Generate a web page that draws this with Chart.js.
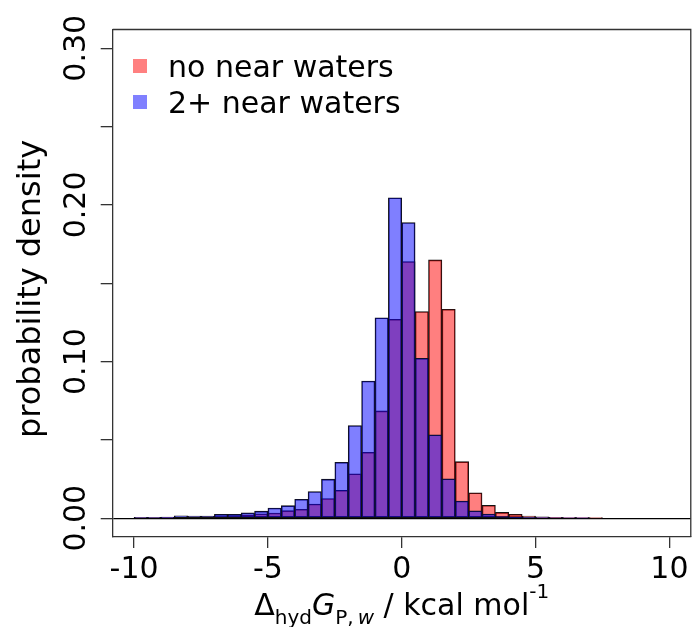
<!DOCTYPE html>
<html><head><meta charset="utf-8">
<script src="https://cdn.jsdelivr.net/npm/chart.js@4/dist/chart.umd.min.js"></script>
<style>html,body{margin:0;padding:0;background:#fff;}#wrap{width:693px;height:627px;}</style>
</head><body><div id="wrap"><canvas id="c" width="693" height="627"></canvas></div>
<script>
// histogram bins (width 0.5 kcal/mol), centres
const binCenters = [-9.75,-9.25,-8.75,-8.25,-7.75,-7.25,-6.75,-6.25,-5.75,-5.25,
  -4.75,-4.25,-3.75,-3.25,-2.75,-2.25,-1.75,-1.25,-0.75,-0.25,
  0.25,0.75,1.25,1.75,2.25,2.75,3.25,3.75,4.25,4.75,
  5.25,5.75,6.25,6.75,7.25,7.75,8.25,8.75,9.25,9.75];
const noNearWaters = [0.0003,0.0004,0.0005,0.0008,0.0009,0.0010,0.0015,0.0017,0.0022,0.0028,
  0.0033,0.0048,0.0057,0.0090,0.0126,0.0178,0.0283,0.0421,0.0685,0.1270,
  0.1638,0.1319,0.1649,0.1334,0.0361,0.0162,0.0082,0.0037,0.0025,0.0013,
  0.0008,0.0006,0.0004,0.0003,0.0001,0,0,0,0,0];
const twoPlusNearWaters = [0.0005,0.0005,0.0007,0.0015,0.0014,0.0014,0.0025,0.0025,0.0034,0.0045,
  0.0065,0.0080,0.0121,0.0170,0.0249,0.0357,0.0591,0.0876,0.1280,0.2046,
  0.1887,0.1021,0.0532,0.0251,0.0110,0.0047,0.0027,0.0012,0.0007,0.0004,
  0.0003,0.0002,0.0002,0.0001,0,0,0,0,0,0];
const seriesNames = ['no near waters','2+ near waters'];
const xTicks = [-10,-5,0,5,10];
const xTickLabels = ['-10','-5','0','5','10'];
const yTicks = [0,0.05,0.10,0.15,0.20,0.25,0.30];
const yTickLabels = ['0.00','','0.10','','0.20','','0.30'];
const yTitle = 'probability density';

const FONT = '"DejaVu Sans"';
const redFill = 'rgba(255,0,0,0.5)';
const blueFill = 'rgba(0,0,255,0.5)';

const decor = {
  id: 'decor',
  afterDraw(chart) {
    const {ctx, chartArea: a, scales: {y}} = chart;
    ctx.save();
    // box top & right
    ctx.strokeStyle = '#333'; ctx.lineWidth = 1.3;
    ctx.beginPath(); ctx.moveTo(a.left, a.top); ctx.lineTo(a.right, a.top); ctx.lineTo(a.right, a.bottom); ctx.stroke();
    // y tick labels (rotated, R style)
    ctx.fillStyle = '#000';
    ctx.font = '30px ' + FONT;
    ctx.textAlign = 'center'; ctx.textBaseline = 'alphabetic';
    yTicks.forEach((v, i) => {
      if (!yTickLabels[i]) return;
      const py = y.getPixelForValue(v);
      ctx.save(); ctx.translate(85, py); ctx.rotate(-Math.PI / 2);
      ctx.fillText(yTickLabels[i], 0, 0); ctx.restore();
    });
    // y axis title
    ctx.save();
    ctx.font = '32px ' + FONT;
    ctx.translate(40, 289); ctx.rotate(-Math.PI / 2);
    ctx.fillText(yTitle, 0, 0);
    ctx.restore();
    // legend
    ctx.font = '30px ' + FONT;
    const cols = ['#ff8080', '#8080ff'];
    ctx.textAlign = 'left';
    seriesNames.forEach((n, i) => {
      const base = 77 + i * 36;
      ctx.fillStyle = cols[i];
      ctx.fillRect(133, base - 18, 14, 14);
      ctx.fillStyle = '#000';
      ctx.fillText(n, 168, base);
    });
    // x axis title with sub/superscripts
    const big = '30px ' + FONT, bigI = 'italic 30px ' + FONT;
    const sm = '20px ' + FONT, smI = 'italic 20px ' + FONT;
    const parts = [
      {t: '\u0394', f: big, dy: 0},
      {t: 'hyd', f: sm, dy: 9},
      {t: 'G', f: bigI, dy: 0},
      {t: 'P,', f: sm, dy: 9},
      {t: '\u2009w', f: smI, dy: 9},
      {t: ' / kcal mol', f: big, dy: 0},
      {t: '-1', f: sm, dy: -17}
    ];
    let total = 0;
    parts.forEach(p => { ctx.font = p.f; p.w = ctx.measureText(p.t).width; total += p.w; });
    let x = (a.left + a.right) / 2 - total / 2;
    const base = 615;
    parts.forEach(p => { ctx.font = p.f; ctx.fillText(p.t, x, base + p.dy); x += p.w; });
    ctx.restore();
  }
};

new Chart(document.getElementById('c'), {
  type: 'bar',
  data: {
    datasets: [
      {label: seriesNames[0], data: binCenters.map((c, i) => ({x: c, y: noNearWaters[i]})),
       backgroundColor: redFill, borderColor: '#111', borderWidth: 0.9, borderSkipped: false, order: 2,
       barPercentage: 1, categoryPercentage: 1, grouped: false},
      {label: seriesNames[1], data: binCenters.map((c, i) => ({x: c, y: twoPlusNearWaters[i]})),
       backgroundColor: blueFill, borderColor: '#111', borderWidth: 0.9, borderSkipped: false, order: 1,
       barPercentage: 1, categoryPercentage: 1, grouped: false}
    ]
  },
  options: {
    responsive: false, animation: false, devicePixelRatio: 1,
    layout: {padding: {top: 29.5, right: 1, left: 0, bottom: 0}},
    plugins: {legend: {display: false}, tooltip: {enabled: false}},
    scales: {
      x: {
        type: 'linear', min: -10.8, max: 10.8, offset: false,
        afterBuildTicks: s => { s.ticks = xTicks.map(v => ({value: v})); },
        afterFit: s => { s.height = 90; },
        ticks: {autoSkip: false, maxRotation: 0, minRotation: 0, padding: 4.5, color: '#000',
                font: {family: 'DejaVu Sans', size: 30},
                callback: (v) => xTickLabels[xTicks.indexOf(v)]},
        grid: {offset: false, drawOnChartArea: false, drawTicks: true, tickLength: 11, tickColor: '#333', lineWidth: 1.3},
        border: {display: true, color: '#333', width: 1.3}
      },
      y: {
        type: 'linear', min: -0.012, max: 0.312,
        afterBuildTicks: s => { s.ticks = yTicks.map(v => ({value: v})); },
        afterFit: s => { s.width = 112.7; },
        ticks: {display: false},
        title: {display: false},
        grid: {offset: false, drawOnChartArea: true, drawTicks: true, tickLength: 12, tickColor: '#333', lineWidth: 1.3,
               color: c => (c.tick && Math.abs(c.tick.value) < 1e-9) ? '#000' : 'rgba(0,0,0,0)'},
        border: {display: true, color: '#333', width: 1.3}
      }
    }
  },
  plugins: [decor]
});
</script></body></html>
